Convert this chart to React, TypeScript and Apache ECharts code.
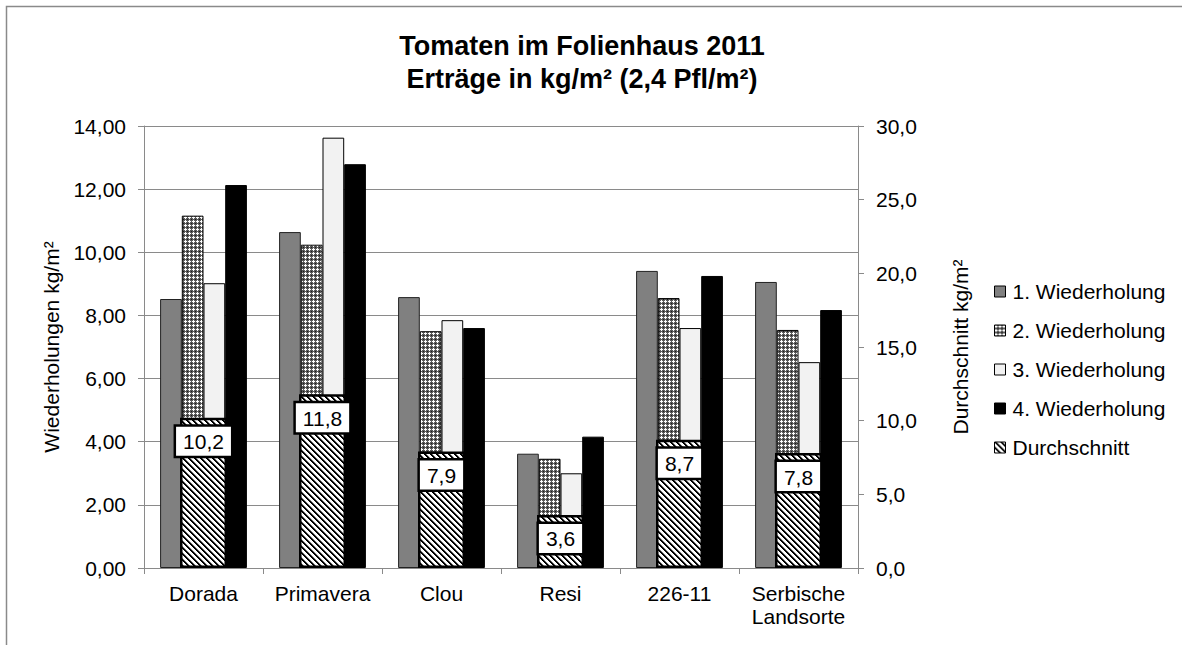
import React, { useEffect, useRef } from "react";
import * as echarts from "echarts";

const categories = ["Dorada", "Primavera", "Clou", "Resi", "226-11", "Serbische\nLandsorte"];
const rep1 = [8.52, 10.64, 8.58, 3.62, 9.41, 9.06];
const rep2 = [11.16, 10.24, 7.5, 3.46, 8.55, 7.54];
const rep3 = [9.02, 13.63, 7.85, 3.0, 7.6, 6.52];
const rep4 = [12.13, 12.79, 7.6, 4.16, 9.25, 8.17];
const average = [10.2, 11.8, 7.9, 3.6, 8.7, 7.8];
const seriesNames = ["1. Wiederholung", "2. Wiederholung", "3. Wiederholung", "4. Wiederholung", "Durchschnitt"];

function crossPattern(): HTMLCanvasElement {
  const c = document.createElement("canvas");
  c.width = 4;
  c.height = 4;
  const ctx = c.getContext("2d")!;
  ctx.fillStyle = "#5a5a5a";
  ctx.fillRect(0, 0, 4, 4);
  ctx.fillStyle = "#ffffff";
  ctx.fillRect(1, 0, 1, 3);
  ctx.fillRect(0, 1, 3, 1);
  ctx.fillStyle = "#1a1a1a";
  ctx.fillRect(3, 3, 1, 1);
  return c;
}

function stripePattern(): HTMLCanvasElement {
  const c = document.createElement("canvas");
  c.width = 6;
  c.height = 6;
  const ctx = c.getContext("2d")!;
  ctx.fillStyle = "#ffffff";
  ctx.fillRect(0, 0, 6, 6);
  for (let y = 0; y < 6; y++) {
    for (let x = 0; x < 6; x++) {
      const d = (((x - y) % 6) + 6) % 6;
      if (d < 2) {
        ctx.fillStyle = "#000000";
        ctx.fillRect(x, y, 1, 1);
      } else if (d === 2) {
        ctx.fillStyle = "#808080";
        ctx.fillRect(x, y, 1, 1);
      }
    }
  }
  return c;
}

export default function App() {
  const ref = useRef<HTMLDivElement>(null);
  useEffect(() => {
    if (!ref.current) return;
    const chart = echarts.init(ref.current, null, { renderer: "svg" });
    const font = "'Liberation Sans', Arial, sans-serif";
    const cross = { image: crossPattern(), repeat: "repeat" } as any;
    const stripes = { image: stripePattern(), repeat: "repeat" } as any;
    const axisGray = "#8a8a8a";
    const fs = 21;
    chart.setOption({
      animation: false,
      textStyle: { fontFamily: font, color: "#000" },
      title: {
        text: "Tomaten im Folienhaus 2011\nErträge in kg/m² (2,4 Pfl/m²)",
        left: 577,
        top: 24,
        textAlign: "center",
        textStyle: { fontFamily: font, fontSize: 27, fontWeight: "bold", color: "#000", lineHeight: 33 },
      },
      graphic: [
        {
          type: "rect",
          shape: { x: 6.5, y: 6.5, width: 1300, height: 800 },
          style: { fill: "none", stroke: "#8a8a8a", lineWidth: 1.5 },
          silent: true,
        },
      ],
      legend: {
        orient: "vertical",
        left: 994,
        top: 276,
        padding: [5, 0, 5, 0],
        icon: "rect",
        itemWidth: 11,
        itemHeight: 11,
        itemGap: 18,
        data: seriesNames,
        textStyle: { fontFamily: font, fontSize: fs, color: "#000", padding: [0, 0, 0, 2] },
        itemStyle: { borderColor: "#000", borderWidth: 1 },
      },
      grid: { left: 144, right: 324, top: 126, bottom: 77 },
      xAxis: [
        {
          type: "category",
          data: categories,
          axisLine: { lineStyle: { color: axisGray, width: 1 } },
          axisTick: { show: true, length: 6, lineStyle: { color: axisGray } },
          axisLabel: { interval: 0, fontFamily: font, fontSize: fs, color: "#000", margin: 14, lineHeight: 23 },
        },
        {
          type: "category",
          data: categories,
          show: false,
        },
      ],
      yAxis: [
        {
          type: "value",
          min: 0,
          max: 14,
          interval: 2,
          name: "Wiederholungen kg/m²",
          nameLocation: "middle",
          nameRotate: 90,
          nameGap: 82,
          nameTextStyle: { fontFamily: font, fontSize: fs, color: "#000" },
          axisLine: { show: true, lineStyle: { color: axisGray } },
          axisTick: { show: true, length: 6, lineStyle: { color: axisGray } },
          splitLine: { show: true, lineStyle: { color: axisGray, width: 1 } },
          axisLabel: {
            fontFamily: font,
            fontSize: fs,
            color: "#000",
            margin: 18,
            formatter: (v: number) => v.toFixed(2).replace(".", ","),
          },
        },
        {
          type: "value",
          min: 0,
          max: 30,
          interval: 5,
          position: "right",
          name: "Durchschnitt kg/m²",
          nameLocation: "middle",
          nameRotate: 90,
          nameGap: 92,
          nameTextStyle: { fontFamily: font, fontSize: fs, color: "#000" },
          axisLine: { show: true, lineStyle: { color: axisGray } },
          axisTick: { show: true, length: 6, lineStyle: { color: axisGray } },
          splitLine: { show: false },
          axisLabel: {
            fontFamily: font,
            fontSize: fs,
            color: "#000",
            margin: 18,
            formatter: (v: number) => v.toFixed(1).replace(".", ","),
          },
        },
      ],
      series: [
        {
          name: seriesNames[0],
          type: "bar",
          data: rep1,
          barWidth: 21.7,
          barGap: "0%",
          itemStyle: { color: "#808080", borderColor: "#222", borderWidth: 1 },
        },
        {
          name: seriesNames[1],
          type: "bar",
          data: rep2,
          barWidth: 21.7,
          barGap: "0%",
          itemStyle: { color: cross, borderColor: "#000", borderWidth: 1 },
        },
        {
          name: seriesNames[2],
          type: "bar",
          data: rep3,
          barWidth: 21.7,
          barGap: "0%",
          itemStyle: { color: "#f2f2f2", borderColor: "#000", borderWidth: 1 },
        },
        {
          name: seriesNames[3],
          type: "bar",
          data: rep4,
          barWidth: 21.7,
          barGap: "0%",
          itemStyle: { color: "#000000", borderColor: "#000", borderWidth: 1 },
        },
        {
          name: seriesNames[4],
          type: "bar",
          xAxisIndex: 1,
          yAxisIndex: 1,
          data: average,
          barWidth: 47,
          z: 5,
          itemStyle: { color: stripes, borderColor: "#000", borderWidth: 2.5 },
          label: {
            show: true,
            position: "insideTop",
            distance: 9,
            formatter: (p: any) => Number(p.value).toFixed(1).replace(".", ","),
            fontFamily: font,
            fontSize: fs,
            lineHeight: 24,
            color: "#000",
            backgroundColor: "#fff",
            borderColor: "#000",
            borderWidth: 2.5,
            padding: [3, 7, 2, 7],
          },
        },
      ],
    });
    return () => chart.dispose();
  }, []);
  return (
    <div
      ref={ref}
      style={{ position: "fixed", left: 0, top: 0, width: 1182, height: 645, background: "#fff" }}
    />
  );
}
